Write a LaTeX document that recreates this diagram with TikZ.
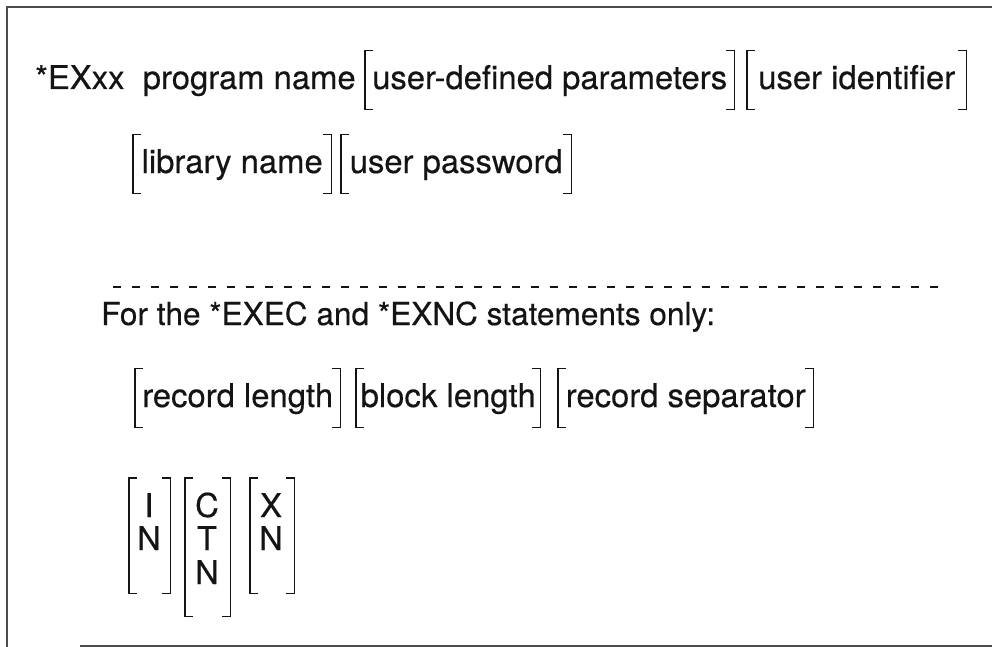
\documentclass[tikz,border=0pt]{standalone}
\usepackage{fontspec}
\setmainfont{TeX Gyre Heros}[FakeBold=0.35]
\definecolor{ink}{gray}{0.08}
\definecolor{rule}{gray}{0.3}
% square brackets drawn on the left and right sides of a named node
\newcommand\optbrackets[1]{%
  \draw[brk] ([xshift=8pt]#1.north west) -- (#1.north west) -- (#1.south west) -- ([xshift=8pt]#1.south west);
  \draw[brk] ([xshift=-8pt]#1.north east) -- (#1.north east) -- (#1.south east) -- ([xshift=-8pt]#1.south east);}
\begin{document}
\begin{tikzpicture}[x=1pt,y=-1pt,
  every node/.style={text=ink},
  font=\fontsize{32.8}{39}\selectfont,
  plain/.style={anchor=base west, inner sep=0pt},
  opt/.style={anchor=base west, inner xsep=0pt, inner ysep=13pt,
              text height=25pt, text depth=7pt},
  optbox/.style={anchor=north west, inner sep=0pt},
  letter/.style={anchor=base, inner sep=0pt},
  brk/.style={draw=ink, line width=1.2pt},
  frame/.style={draw=rule, line width=2pt},
  sep/.style={draw=ink, line width=2pt, dash pattern=on 8pt off 11pt}]
\useasboundingbox (0,0) rectangle (992,647);

% open frame: top, left and bottom rules
\draw[frame] (6,7) -- (992,7);
\draw[frame] (7,7) -- (7,647);
\draw[frame] (80,646) -- (992,646);

% general form of the statement
\node[plain] (cmd) at (35,89) {*EXxx\ \ program name};
\node[opt, minimum width=369pt] (udp) at (365,89) {user-defined parameters};
\node[opt, minimum width=219pt] (uid) at (747,89) {user identifier};
\node[opt, minimum width=198pt] (lib) at (133,173) {library name};
\node[opt, minimum width=230pt] (pwd) at (341,173) {user password};
\optbrackets{udp}
\optbrackets{uid}
\optbrackets{lib}
\optbrackets{pwd}

% separator
\coordinate (sepL) at (113,287);
\coordinate (sepR) at (940,287);
\draw[sep] (sepL) -- (sepR);

% extra operands for *EXEC and *EXNC
\node[plain, font=\fontsize{31.6}{38}\selectfont] (only) at (101,325)
  {For the *EXEC and *EXNC statements only:};
\node[opt, minimum width=205pt] (rlen) at (135,407) {record length};
\node[opt, minimum width=184pt] (blen) at (356,407) {block length};
\node[opt, minimum width=255pt] (rsep) at (558,407) {record separator};
\optbrackets{rlen}
\optbrackets{blen}
\optbrackets{rsep}

% stacked choices
\node[optbox, minimum width=41pt, minimum height=115pt] (bIN) at (129,478) {};
\node[optbox, minimum width=45pt, minimum height=138pt] (bCTN) at (185,478) {};
\node[optbox, minimum width=44pt, minimum height=115pt] (bXN) at (250,478) {};
\optbrackets{bIN}
\optbrackets{bCTN}
\optbrackets{bXN}
\node[letter] (i1) at (149,517) {I};
\node[letter] (n1) at (149,550) {N};
\node[letter] (c2) at (207,517) {C};
\node[letter] (t2) at (207,550) {T};
\node[letter] (n2) at (207,584) {N};
\node[letter] (x3) at (271,517) {X};
\node[letter] (n3) at (271,550) {N};
\end{tikzpicture}
\end{document}
